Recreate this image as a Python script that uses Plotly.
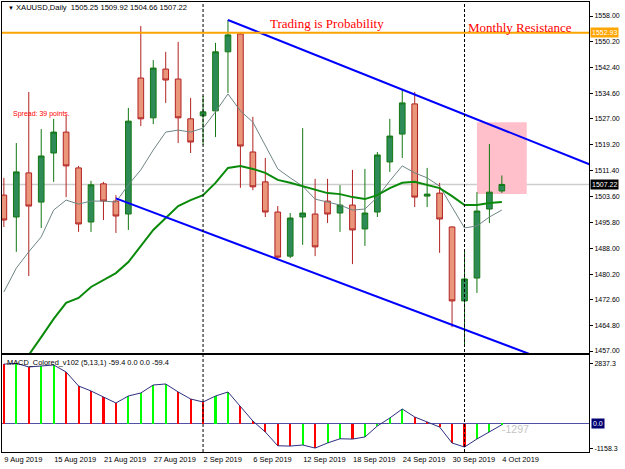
import plotly.graph_objects as go

# ---------------- data ----------------
dates = ["9 Aug 2019", "12 Aug 2019", "13 Aug 2019", "14 Aug 2019", "15 Aug 2019",
         "16 Aug 2019", "19 Aug 2019", "20 Aug 2019", "21 Aug 2019", "22 Aug 2019",
         "23 Aug 2019", "26 Aug 2019", "27 Aug 2019", "28 Aug 2019", "29 Aug 2019",
         "30 Aug 2019", "2 Sep 2019", "3 Sep 2019", "4 Sep 2019", "5 Sep 2019",
         "6 Sep 2019", "9 Sep 2019", "10 Sep 2019", "11 Sep 2019", "12 Sep 2019",
         "13 Sep 2019", "16 Sep 2019", "17 Sep 2019", "18 Sep 2019", "19 Sep 2019",
         "20 Sep 2019", "23 Sep 2019", "24 Sep 2019", "25 Sep 2019", "26 Sep 2019",
         "27 Sep 2019", "30 Sep 2019", "1 Oct 2019", "2 Oct 2019", "3 Oct 2019",
         "4 Oct 2019"]

opens = [1504.0, 1497.4, 1510.7, 1501.9, 1516.7, 1523.0, 1512.2, 1495.9, 1507.4, 1502.2,
         1498.3, 1539.3, 1527.3, 1542.0, 1539.0, 1527.0, 1527.9, 1529.4, 1547.2, 1552.6,
         1517.0, 1508.0, 1498.9, 1485.6, 1497.4, 1498.3, 1502.2, 1498.6, 1501.0, 1493.8,
         1498.9, 1514.0, 1522.4, 1531.5, 1503.7, 1504.6, 1494.4, 1472.1, 1479.0, 1499.8,
         1505.25]
highs = [1509.2, 1519.7, 1535.1, 1523.9, 1527.0, 1527.9, 1512.8, 1508.3, 1508.0, 1504.0,
         1530.3, 1555.0, 1544.7, 1547.2, 1550.2, 1533.3, 1533.9, 1549.9, 1556.8, 1552.9,
         1527.6, 1515.2, 1500.7, 1498.6, 1524.2, 1508.9, 1508.9, 1507.0, 1511.6, 1511.9,
         1517.0, 1527.0, 1536.0, 1535.1, 1512.2, 1507.7, 1494.6, 1487.5, 1504.9, 1519.4,
         1509.92]
lows = [1494.4, 1486.9, 1479.6, 1494.1, 1508.0, 1503.4, 1492.9, 1492.9, 1496.5, 1492.6,
        1493.5, 1524.8, 1525.4, 1531.8, 1519.7, 1516.7, 1519.1, 1521.5, 1534.8, 1506.2,
        1505.5, 1497.4, 1484.4, 1485.0, 1489.0, 1485.6, 1495.6, 1492.9, 1483.2, 1488.7,
        1497.4, 1511.0, 1515.2, 1500.4, 1500.4, 1486.6, 1464.2, 1458.8, 1474.5, 1495.6,
        1504.66]
closes = [1496.5, 1511.0, 1500.7, 1515.8, 1523.0, 1512.8, 1495.3, 1507.1, 1502.2, 1497.7,
          1526.3, 1527.0, 1542.3, 1538.7, 1527.3, 1520.0, 1529.1, 1547.2, 1552.3, 1518.8,
          1506.5, 1498.9, 1485.3, 1497.1, 1498.6, 1488.4, 1498.3, 1501.0, 1493.5, 1498.6,
          1516.1, 1521.8, 1531.8, 1503.4, 1504.3, 1496.8, 1472.1, 1478.7, 1499.2, 1504.9,
          1507.22]

ma_fast = [1474.8, 1482.0, 1486.9, 1491.4, 1499.5, 1502.5, 1501.3, 1502.2, 1502.2, 1501.9,
           1507.1, 1511.6, 1517.6, 1523.0, 1523.6, 1523.0, 1524.2, 1529.1, 1534.5, 1529.4,
           1526.0, 1519.1, 1511.9, 1509.2, 1506.7, 1502.8, 1501.9, 1501.0, 1499.5, 1499.8,
           1503.4, 1508.3, 1512.8, 1510.7, 1509.2, 1506.7, 1500.4, 1494.1, 1494.7, 1497.4,
           1499.5]
ma_slow = [1445.2, 1450.7, 1455.8, 1461.2, 1466.7, 1471.5, 1473.0, 1476.3, 1478.4, 1480.5,
           1483.8, 1488.7, 1493.5, 1497.1, 1500.7, 1502.5, 1504.0, 1507.7, 1512.2, 1512.8,
           1511.9, 1510.7, 1508.6, 1507.7, 1506.7, 1505.5, 1504.6, 1504.3, 1503.4, 1502.8,
           1504.0, 1506.1, 1507.7, 1508.0, 1507.1, 1506.1, 1503.7, 1501.0, 1501.0, 1501.6,
           1501.9]

macd = [2800, 2837.3, 2665, 2712, 2759, 2429, 1769, 1533, 1250, 967,
        1297, 1439, 1816, 1863, 1486, 1156, 1014, 1297, 1486, 825,
        118, -401, -1050, -1065, -1014, -1158.3, -920, -720, -735, -637,
        -118, 259, 684, 307, 71, -165, -920, -1108, -731, -401,
        -59.4]

price_ticks = [1558.00, 1550.20, 1542.40, 1534.60, 1527.00, 1519.20, 1511.40,
               1503.60, 1495.80, 1488.00, 1480.20, 1472.60, 1464.80, 1457.00]
macd_ticks = [2837.3, -1158.3]

resistance = 1552.93
bid = 1507.22
upper_trend_x = [18, 47.5]
upper_trend_y = [1556.8, 1512.6]
lower_trend_x = [9, 43]
lower_trend_y = [1503.0, 1455.0]
zone_x = [38, 42]
zone_y = [1504.3, 1526.0]
separators = [16, 37]

# ---------------- figure ----------------
idx = list(range(len(dates)))
tick_idx = idx[::4]
tick_txt = [dates[i] for i in tick_idx]

bar_colors = ["#FF0000"] + ["#00FF00" if macd[k] > macd[k - 1] else "#FF0000"
                            for k in range(1, len(macd))]

SANS = "Liberation Sans"
SERIF = "Liberation Serif"

fig = go.Figure()

fig.add_trace(go.Candlestick(
    x=idx, open=opens, high=highs, low=lows, close=closes,
    xaxis="x2", yaxis="y",
    increasing=dict(line=dict(color="#127812", width=1), fillcolor="#2E8B57"),
    decreasing=dict(line=dict(color="#B22222", width=1), fillcolor="#E9967A"),
    whiskerwidth=0, hoverinfo="skip"))

fig.add_trace(go.Scatter(x=idx, y=ma_fast, mode="lines", xaxis="x2", yaxis="y",
                         line=dict(color="#6F8585", width=1), hoverinfo="skip"))
fig.add_trace(go.Scatter(x=idx, y=ma_slow, mode="lines", xaxis="x2", yaxis="y",
                         line=dict(color="#0A8A0A", width=2), hoverinfo="skip"))
fig.add_trace(go.Scatter(x=upper_trend_x, y=upper_trend_y, mode="lines", xaxis="x2", yaxis="y",
                         line=dict(color="#0000FF", width=2), hoverinfo="skip"))
fig.add_trace(go.Scatter(x=lower_trend_x, y=lower_trend_y, mode="lines", xaxis="x2", yaxis="y",
                         line=dict(color="#0000FF", width=2), hoverinfo="skip"))

fig.add_trace(go.Bar(x=idx, y=macd, xaxis="x", yaxis="y2", width=0.17,
                     marker=dict(color=bar_colors, line=dict(width=0)), hoverinfo="skip"))
fig.add_trace(go.Scatter(x=idx, y=macd, mode="lines", xaxis="x", yaxis="y2",
                         line=dict(color="#2E2E80", width=1), hoverinfo="skip"))

shapes = []
shapes.append(dict(type="rect", xref="x2", yref="y", x0=zone_x[0], x1=zone_x[1],
                   y0=zone_y[0], y1=zone_y[1], fillcolor="#FFC0CB",
                   line=dict(width=0), layer="below"))
shapes.append(dict(type="line", xref="paper", yref="y", x0=0, x1=1, y0=bid, y1=bid,
                   line=dict(color="#CDCDCD", width=1.5), layer="below"))
shapes.append(dict(type="line", xref="paper", yref="y", x0=0, x1=1, y0=resistance, y1=resistance,
                   line=dict(color="#FFA500", width=2)))
shapes.append(dict(type="line", xref="paper", yref="y2", x0=0, x1=1, y0=0, y1=0,
                   line=dict(color="#5050A8", width=1), layer="below"))
for s in separators:
    shapes.append(dict(type="line", xref="x", yref="paper", x0=s, x1=s, y0=0, y1=1,
                       line=dict(color="black", width=1, dash="3px,2px")))

annotations = [
    dict(text="▼", xref="paper", yref="paper", x=0.0075, y=0.9867, xanchor="left",
         yanchor="middle", showarrow=False, font=dict(family=SANS, size=6, color="black")),
    dict(text="XAUUSD,Daily  1505.25 1509.92 1504.66 1507.22", xref="paper", yref="paper",
         x=0.0204, y=0.9867, xanchor="left", yanchor="middle", showarrow=False,
         font=dict(family=SANS, size=7.6, color="black")),
    dict(text="Spread: 39 points.", xref="paper", yref="paper", x=0.0153, y=0.7511,
         xanchor="left", yanchor="middle", showarrow=False,
         font=dict(family=SANS, size=7, color="#FF0000")),
    dict(text="Trading is Probability", xref="paper", yref="paper", x=0.5537, y=0.9533,
         xanchor="center", yanchor="middle", showarrow=False,
         font=dict(family=SERIF, size=13, color="#FF0000")),
    dict(text="Monthly Resistance", xref="paper", yref="paper", x=0.7905, y=0.9444,
         xanchor="left", yanchor="middle", showarrow=False,
         font=dict(family=SERIF, size=13, color="#FF0000")),
    dict(text="MACD_Colored_v102 (5,13,1) -59.4 0.0 0.0 -59.4", xref="paper", yref="paper",
         x=0.0051, y=0.1978, xanchor="left", yanchor="middle", showarrow=False,
         font=dict(family=SANS, size=7.4, color="black")),
    dict(text="-1297", xref="paper", yref="paper", x=0.8484, y=0.0511, xanchor="left",
         yanchor="middle", showarrow=False, font=dict(family=SANS, size=10.5, color="#C4C4C4")),
    dict(text="%.2f" % resistance, xref="paper", yref="y", x=1, y=resistance, xanchor="left",
         yanchor="middle", xshift=1, showarrow=False, bgcolor="#FFA500", borderpad=1,
         font=dict(family=SANS, size=7, color="white")),
    dict(text="%.2f" % bid, xref="paper", yref="y", x=1, y=bid, xanchor="left",
         yanchor="middle", xshift=1, showarrow=False, bgcolor="black", borderpad=1,
         font=dict(family=SANS, size=7, color="white")),
    dict(text="0.0", xref="paper", yref="y2", x=1, y=0, xanchor="left",
         yanchor="middle", xshift=2, showarrow=False, bgcolor="#000070", borderpad=1,
         font=dict(family=SANS, size=7, color="white")),
]

fig.update_layout(
    width=625, height=469,
    margin=dict(l=2, r=36, t=2, b=17, autoexpand=False),
    paper_bgcolor="white", plot_bgcolor="white",
    showlegend=False, hovermode=False, boxgap=0.35, bargap=0,
    shapes=shapes, annotations=annotations,
    xaxis=dict(domain=[0, 1], anchor="y2", range=[-0.15, 47.0],
               tickmode="array", tickvals=tick_idx, ticktext=tick_txt,
               ticklabelposition="outside right", ticks="", tickangle=0,
               automargin=False,
               tickfont=dict(family=SANS, size=7.5, color="black"),
               showgrid=False, zeroline=False, showline=True, mirror=True,
               linecolor="black", linewidth=1),
    xaxis2=dict(domain=[0, 1], anchor="y", matches="x", showticklabels=False,
                ticks="", showgrid=False, zeroline=False, showline=True, mirror=True,
                linecolor="black", linewidth=1, rangeslider=dict(visible=False)),
    yaxis=dict(domain=[0.22, 1], anchor="x2", side="right", range=[1456.4, 1562.22],
               tickmode="array", tickvals=price_ticks, automargin=False,
               ticktext=["%.2f" % v for v in price_ticks],
               ticks="outside", ticklen=3, tickcolor="black",
               tickfont=dict(family=SANS, size=7, color="black"),
               showgrid=False, zeroline=False, showline=True, mirror=True,
               linecolor="black", linewidth=1),
    yaxis2=dict(domain=[0, 0.2156], anchor="x", side="right", range=[-1344, 3231],
                tickmode="array", tickvals=macd_ticks, automargin=False,
                ticktext=["%.1f" % v for v in macd_ticks],
                ticks="outside", ticklen=3, tickcolor="black",
                tickfont=dict(family=SANS, size=7, color="black"),
                showgrid=False, zeroline=False, showline=True, mirror=True,
                linecolor="black", linewidth=1),
)

fig.write_html("out.html")
